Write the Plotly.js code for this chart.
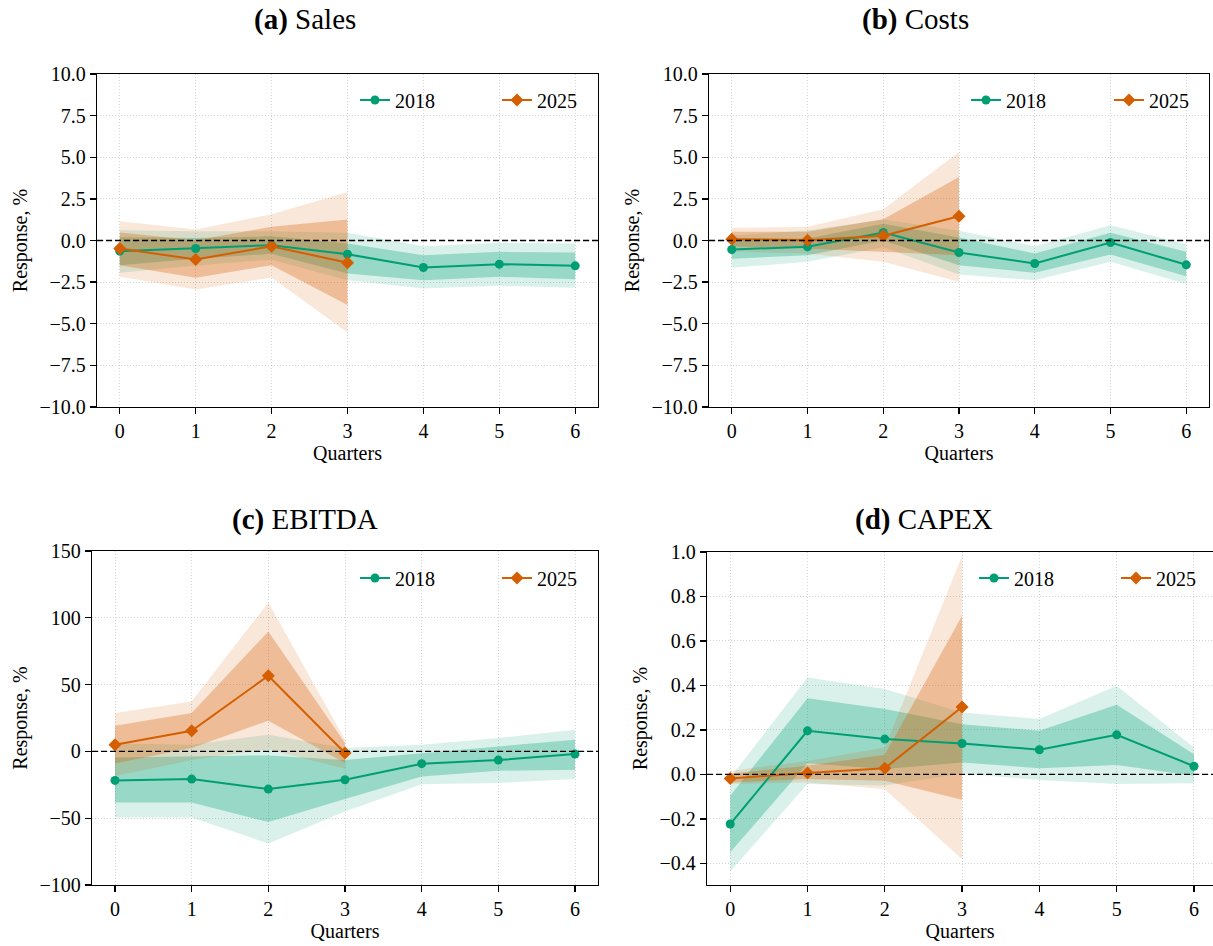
<!DOCTYPE html>
<html>
<head>
<meta charset="utf-8">
<script src="https://cdn.plot.ly/plotly-3.0.1.min.js"></script>
<style>html,body{margin:0;padding:0;background:#fff;}#chart{width:1213px;height:946px;}</style>
</head>
<body>
<div id="chart"></div>
<script>
// ---------- data ----------
const quarters2018 = [0, 1, 2, 3, 4, 5, 6];
const quarters2025 = [0, 1, 2, 3];
const seriesNames = ['2018', '2025'];

// (a) Sales
const sales2018 = [-0.64, -0.48, -0.28, -0.82, -1.62, -1.42, -1.52];
const sales2018OuterHi = [0.62, 0.55, 0.55, 0.46, -0.34, -0.14, -0.18];
const sales2018OuterLo = [-1.94, -1.5, -1.15, -2.38, -2.88, -2.72, -2.84];
const sales2018InnerHi = [0.2, 0.15, 0.25, -0.18, -0.88, -0.68, -0.72];
const sales2018InnerLo = [-1.48, -1.1, -0.8, -1.98, -2.38, -2.18, -2.32];
const sales2025 = [-0.48, -1.14, -0.34, -1.34];
const sales2025OuterHi = [1.16, 0.66, 1.58, 2.92];
const sales2025OuterLo = [-2.18, -2.94, -2.22, -5.52];
const sales2025InnerHi = [0.48, 0.02, 0.82, 1.26];
const sales2025InnerLo = [-1.48, -2.24, -1.48, -3.88];

// (b) Costs
const costs2018 = [-0.54, -0.38, 0.48, -0.72, -1.38, -0.12, -1.46];
const costs2018OuterHi = [0.3, 0.6, 1.26, 0.58, -0.34, 0.92, -0.22];
const costs2018OuterLo = [-1.64, -1.28, -0.4, -2.04, -2.38, -1.28, -2.62];
const costs2018InnerHi = [0.1, 0.12, 1.0, 0.18, -0.78, 0.46, -0.68];
const costs2018InnerLo = [-1.1, -0.88, 0.0, -1.48, -1.94, -0.84, -2.14];
const costs2025 = [0.08, 0.02, 0.28, 1.46];
const costs2025OuterHi = [0.76, 0.82, 1.88, 5.32];
const costs2025OuterLo = [-0.68, -0.78, -1.28, -2.48];
const costs2025InnerHi = [0.52, 0.52, 1.28, 3.82];
const costs2025InnerLo = [-0.34, -0.48, -0.68, -0.88];

// (c) EBITDA
const ebitda2018 = [-21.7, -20.7, -28.2, -21.2, -9.2, -6.5, -2.0];
const ebitda2018OuterHi = [6.0, 5.0, 12.5, 2.5, 5.0, 10.0, 16.2];
const ebitda2018OuterLo = [-49.4, -49.4, -69.0, -44.9, -24.5, -23.7, -20.7];
const ebitda2018InnerHi = [-4.5, -3.5, -3.0, -6.5, -1.2, 3.7, 8.7];
const ebitda2018InnerLo = [-38.2, -38.2, -52.9, -35.7, -18.7, -14.5, -13.7];
const ebitda2025 = [5.0, 15.5, 56.6, -1.2];
const ebitda2025OuterHi = [28.7, 37.4, 111.5, 8.7];
const ebitda2025OuterLo = [-18.5, -6.5, 1.7, -13.0];
const ebitda2025InnerHi = [19.2, 28.7, 89.8, 6.2];
const ebitda2025InnerLo = [-9.0, 2.5, 23.0, -8.7];

// (d) CAPEX
const capex2018 = [-0.223, 0.196, 0.159, 0.139, 0.111, 0.178, 0.037];
const capex2018OuterHi = [-0.015, 0.436, 0.384, 0.279, 0.249, 0.399, 0.121];
const capex2018OuterLo = [-0.436, -0.043, -0.05, 0.004, -0.025, -0.043, -0.04];
const capex2018InnerHi = [-0.096, 0.342, 0.294, 0.226, 0.196, 0.313, 0.091];
const capex2018InnerLo = [-0.35, 0.05, 0.024, 0.054, 0.028, 0.043, -0.006];
const capex2025 = [-0.018, 0.007, 0.028, 0.303];
const capex2025OuterHi = [0.016, 0.061, 0.121, 0.983];
const capex2025OuterLo = [-0.043, -0.036, -0.066, -0.381];
const capex2025InnerHi = [0.004, 0.039, 0.088, 0.713];
const capex2025InnerLo = [-0.036, -0.021, -0.028, -0.114];

// tick labels
const xTicks = [0, 1, 2, 3, 4, 5, 6];
const pctTickVals = [-10, -7.5, -5, -2.5, 0, 2.5, 5, 7.5, 10];
const pctTickText = ['\u221210.0', '\u22127.5', '\u22125.0', '\u22122.5', '0.0', '2.5', '5.0', '7.5', '10.0'];
const ebitdaTickVals = [-100, -50, 0, 50, 100, 150];
const ebitdaTickText = ['\u2212100', '\u221250', '0', '50', '100', '150'];
const capexTickVals = [-0.4, -0.2, 0, 0.2, 0.4, 0.6, 0.8, 1.0];
const capexTickText = ['\u22120.4', '\u22120.2', '0.0', '0.2', '0.4', '0.6', '0.8', '1.0'];

const panelTitles = ['<b>(a)</b> Sales', '<b>(b)</b> Costs', '<b>(c)</b> EBITDA', '<b>(d)</b> CAPEX'];
const xTitle = 'Quarters';
const yTitle = 'Response, %';

// ---------- styling ----------
const GREEN = '#009E73';
const ORANGE = '#D55E00';
const greenOuter = 'rgba(0,158,115,0.15)';
const greenInner = 'rgba(0,158,115,0.30)';
const orangeOuter = 'rgba(213,94,0,0.15)';
const orangeInner = 'rgba(213,94,0,0.30)';
const FONT = 'Liberation Serif';

const traces = [];
function band(x, lo, hi, color, xa, ya) {
  traces.push({
    x: x.concat(x.slice().reverse()),
    y: hi.concat(lo.slice().reverse()),
    xaxis: xa, yaxis: ya, type: 'scatter', mode: 'lines',
    fill: 'toself', fillcolor: color, line: {width: 0, color: 'rgba(0,0,0,0)'},
    hoverinfo: 'skip', showlegend: false
  });
}
function line(x, y, color, symbol, size, name, xa, ya, leg) {
  traces.push({
    x: x, y: y, xaxis: xa, yaxis: ya, type: 'scatter', mode: 'lines+markers',
    name: name, line: {color: color, width: 2},
    marker: {color: color, symbol: symbol, size: size},
    legend: leg, showlegend: true
  });
}

const panels = [
  {xa: 'x', ya: 'y', legs: ['legend', 'legend2'],
   g: [sales2018, sales2018OuterLo, sales2018OuterHi, sales2018InnerLo, sales2018InnerHi],
   o: [sales2025, sales2025OuterLo, sales2025OuterHi, sales2025InnerLo, sales2025InnerHi]},
  {xa: 'x2', ya: 'y2', legs: ['legend3', 'legend4'],
   g: [costs2018, costs2018OuterLo, costs2018OuterHi, costs2018InnerLo, costs2018InnerHi],
   o: [costs2025, costs2025OuterLo, costs2025OuterHi, costs2025InnerLo, costs2025InnerHi]},
  {xa: 'x3', ya: 'y3', legs: ['legend5', 'legend6'],
   g: [ebitda2018, ebitda2018OuterLo, ebitda2018OuterHi, ebitda2018InnerLo, ebitda2018InnerHi],
   o: [ebitda2025, ebitda2025OuterLo, ebitda2025OuterHi, ebitda2025InnerLo, ebitda2025InnerHi]},
  {xa: 'x4', ya: 'y4', legs: ['legend7', 'legend8'],
   g: [capex2018, capex2018OuterLo, capex2018OuterHi, capex2018InnerLo, capex2018InnerHi],
   o: [capex2025, capex2025OuterLo, capex2025OuterHi, capex2025InnerLo, capex2025InnerHi]}
];

panels.forEach(p => {
  band(quarters2018, p.g[1], p.g[2], greenOuter, p.xa, p.ya);
  band(quarters2018, p.g[3], p.g[4], greenInner, p.xa, p.ya);
  band(quarters2025, p.o[1], p.o[2], orangeOuter, p.xa, p.ya);
  band(quarters2025, p.o[3], p.o[4], orangeInner, p.xa, p.ya);
});
panels.forEach(p => {
  line(quarters2018, p.g[0], GREEN, 'circle', 9, seriesNames[0], p.xa, p.ya, p.legs[0]);
  line(quarters2025, p.o[0], ORANGE, 'diamond', 10, seriesNames[1], p.xa, p.ya, p.legs[1]);
});

const W = 1213, H = 946;
function xd(l, r) { return [l / W, Math.min(1, r / W)]; }
function yd(t, b) { return [1 - b / H, 1 - t / H]; }

const GRID = {showgrid: true, gridcolor: '#d4d4d4', griddash: '1px,2px', gridwidth: 1};

function xaxis(dom, anchor, range, mirror) {
  return Object.assign({
    domain: dom, anchor: anchor, range: range,
    tickvals: xTicks, ticktext: xTicks.map(String),
    showline: true, linecolor: 'black', linewidth: 1.3, mirror: mirror,
    ticks: 'outside', ticklen: 6, tickwidth: 1.3, tickcolor: 'black',
    zeroline: false,
    tickfont: {family: FONT, size: 20, color: 'black'},
    title: {text: xTitle, font: {family: FONT, size: 20, color: 'black'}, standoff: 4}
  }, GRID);
}
function yaxis(dom, anchor, range, vals, text, mirror) {
  return Object.assign({
    domain: dom, anchor: anchor, range: range,
    tickvals: vals, ticktext: text,
    showline: true, linecolor: 'black', linewidth: 1.3, mirror: mirror,
    ticks: 'outside', ticklen: 6, tickwidth: 1.3, tickcolor: 'black',
    zeroline: false,
    tickfont: {family: FONT, size: 20, color: 'black'},
    title: {text: yTitle, font: {family: FONT, size: 20, color: 'black'}, standoff: 6}
  }, GRID);
}

// single-entry legend positioned by the left edge of its text
function legend(textLeft, yc) {
  return {
    orientation: 'h', x: (textLeft - 42) / W, xanchor: 'left', y: 1 - yc / H, yanchor: 'middle',
    bgcolor: 'rgba(0,0,0,0)', borderwidth: 0,
    font: {family: FONT, size: 20, color: 'black'}
  };
}

function zeroLine(xa, ya) {
  return {type: 'line', xref: xa + ' domain', yref: ya, x0: 0, x1: 1, y0: 0, y1: 0,
          line: {color: 'black', width: 1.3, dash: '6px,3px'}, layer: 'above'};
}

function ttl(text, xc, yc) {
  return {text: text, xref: 'paper', yref: 'paper', x: xc / W, y: 1 - yc / H,
          xanchor: 'center', yanchor: 'middle', showarrow: false,
          font: {family: FONT, size: 29, color: 'black'}};
}

const layout = {
  width: W, height: H,
  margin: {l: 0, r: 0, t: 0, b: 0},
  paper_bgcolor: 'white', plot_bgcolor: 'white',
  font: {family: FONT, color: 'black'},
  xaxis: xaxis(xd(97, 598), 'y', [-0.3, 6.3], true),
  yaxis: yaxis(yd(74, 407), 'x', [-10, 10], pctTickVals, pctTickText, true),
  xaxis2: xaxis(xd(709, 1209), 'y2', [-0.3, 6.3], true),
  yaxis2: yaxis(yd(74, 407), 'x2', [-10, 10], pctTickVals, pctTickText, true),
  xaxis3: xaxis(xd(92, 598), 'y3', [-0.3, 6.3], true),
  yaxis3: yaxis(yd(551, 885), 'x3', [-100, 150], ebitdaTickVals, ebitdaTickText, true),
  xaxis4: xaxis(xd(707, 1213), 'y4', [-0.3, 6.246], true),
  yaxis4: yaxis(yd(552, 885), 'x4', [-0.497, 1.0], capexTickVals, capexTickText, false),
  legend: legend(397, 100),
  legend2: legend(539, 100),
  legend3: legend(1008, 100),
  legend4: legend(1151, 100),
  legend5: legend(397, 578),
  legend6: legend(539, 578),
  legend7: legend(1016, 578),
  legend8: legend(1158, 578),
  shapes: [zeroLine('x', 'y'), zeroLine('x2', 'y2'), zeroLine('x3', 'y3'), zeroLine('x4', 'y4')],
  annotations: [ttl(panelTitles[0], 304.5, 19), ttl(panelTitles[1], 916, 19),
                ttl(panelTitles[2], 304.5, 519), ttl(panelTitles[3], 924, 519)],
  showlegend: true
};

Plotly.newPlot('chart', traces, layout, {staticPlot: true, displayModeBar: false});
</script>
</body>
</html>
